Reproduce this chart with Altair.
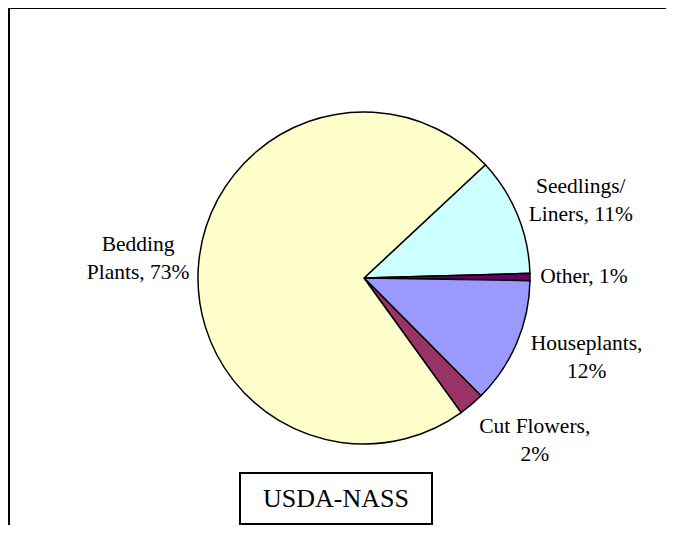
import altair as alt
import pandas as pd
import math

categories = ["Seedlings/Liners", "Other", "Houseplants", "Cut Flowers", "Bedding Plants"]
values = [11.5, 0.7, 12.3, 2.5, 73.0]
labels = ["Seedlings/\nLiners, 11%", "Other, 1%", "Houseplants,\n12%", "Cut Flowers,\n2%", "Bedding\nPlants, 73%"]
colors = ["#CCFFFF", "#660066", "#9999FF", "#993366", "#FFFFCC"]
source_note = ["USDA-NASS"]

df = pd.DataFrame({
    "category": categories,
    "value": values,
    "label": labels,
    "idx": list(range(len(categories))),
})

W, H = 658, 517
CX, CY = 356, 270
R = 166
start = math.radians(47)
FONT = "Liberation Serif"

# label nudges (dx, dy) in pixels, layout only
nudges = {
    "Seedlings/Liners": (4, -4),
    "Other": (-10, 0),
    "Houseplants": (11, -24),
    "Cut Flowers": (22, -26),
    "Bedding Plants": (3, -11),
}

theta = alt.Theta("value:Q", stack=True, scale=alt.Scale(range=[start, start + 2 * math.pi]))
order = alt.Order("idx:Q", sort="ascending")
color = alt.Color("category:N", scale=alt.Scale(domain=categories, range=colors), legend=None)

base = alt.Chart(df)

pie = base.mark_arc(outerRadius=R, stroke="black", strokeWidth=1.5).encode(
    theta=theta, order=order, color=color,
    x=alt.value(CX), y=alt.value(CY),
)

text_layers = []
for cat in categories:
    dx, dy = nudges[cat]
    t = base.mark_text(radius=230, font=FONT, fontSize=21.5, lineHeight=28,
                       lineBreak="\n", align="center", baseline="middle",
                       color="black", dx=dx, dy=dy).encode(
        theta=theta, order=order,
        text=alt.condition(alt.datum.category == cat, "label:N", alt.value("")),
        x=alt.value(CX), y=alt.value(CY),
    )
    text_layers.append(t)

note_df = pd.DataFrame({"t": source_note})
box = alt.Chart(note_df).mark_rect(fill="white", stroke="black", strokeWidth=2).encode(
    x=alt.value(232), x2=alt.value(424), y=alt.value(465), y2=alt.value(516),
)
box_text = alt.Chart(note_df).mark_text(font=FONT, fontSize=26, align="center",
                                        baseline="middle", color="black").encode(
    text="t:N", x=alt.value(328), y=alt.value(491),
)

border_left = alt.Chart(note_df).mark_rule(color="black", strokeWidth=2).encode(
    x=alt.value(1), y=alt.value(0), y2=alt.value(H),
)
border_top = alt.Chart(note_df).mark_rule(color="black", strokeWidth=2).encode(
    x=alt.value(0), x2=alt.value(W), y=alt.value(0),
)

chart = alt.layer(pie, *text_layers, box, box_text, border_left, border_top).properties(
    width=W, height=H, autosize=alt.AutoSizeParams(type="none"), padding=0,
).configure_view(stroke=None).resolve_scale(theta="shared")

chart.save("out.html", embed_options={"renderer": "svg", "actions": False})
